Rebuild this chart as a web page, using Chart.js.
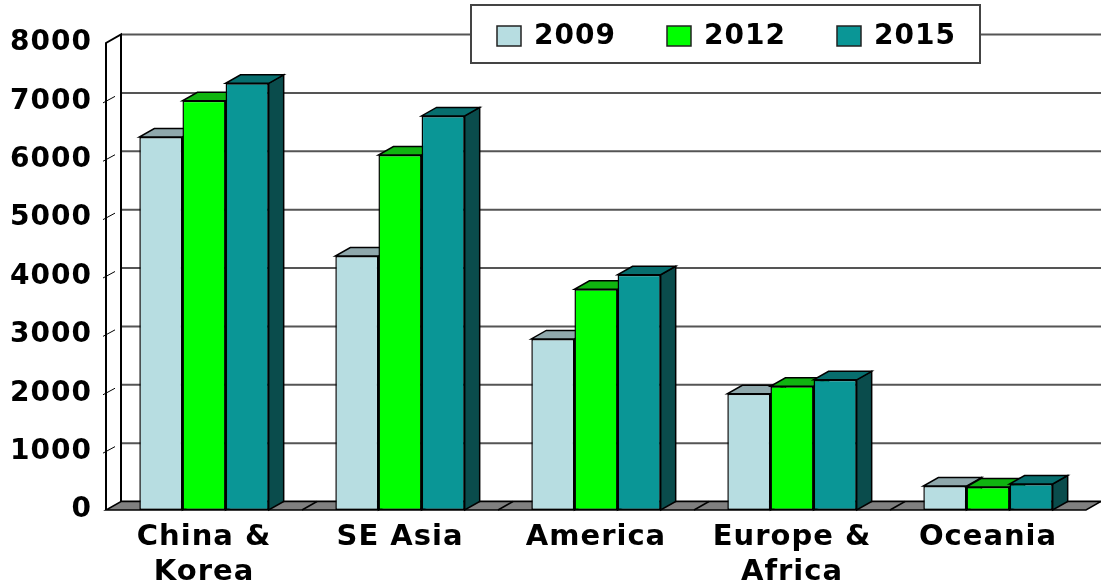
<!DOCTYPE html>
<html>
<head>
<meta charset="utf-8">
<script src="https://cdn.jsdelivr.net/npm/chart.js@4.4.1/dist/chart.umd.min.js"></script>
<style>
  html, body { margin: 0; padding: 0; background: #fff; }
  canvas { display: block; }
</style>
</head>
<body>
<canvas id="chart" width="1101" height="586"></canvas>
<script>
// categories and series
const regions = [["China &", "Korea"], "SE Asia", "America", ["Europe &", "Africa"], "Oceania"];
const years = ["2009", "2012", "2015"];
const v2009 = [6390, 4350, 2930, 1990, 410];
const v2012 = [7010, 6080, 3780, 2120, 395];
const v2015 = [7310, 6750, 4030, 2230, 445];

// front / top / side faces of each series
const faces = [
	{front: "#b7dde1", top: "#8fa8ac", side: "#5d7d81"},
	{front: "#00ff00", top: "#10b410", side: "#007a00"},
	{front: "#0a9696", top: "#076e6e", side: "#0a4c4c"}
];

const DEPTH_X = 15;
const DEPTH_Y = 8.5;
const FONT = "'DejaVu Sans', sans-serif";

function quad(ctx, pts, fill) {
	ctx.beginPath();
	ctx.moveTo(pts[0][0], pts[0][1]);
	for (let i = 1; i < pts.length; i++) ctx.lineTo(pts[i][0], pts[i][1]);
	ctx.closePath();
	ctx.fillStyle = fill;
	ctx.fill();
	ctx.stroke();
}

const spacing = {
	id: "spacing",
	beforeDraw(chart) {
		chart.ctx.letterSpacing = "1px";
	}
};

// back wall, side wall, floor and the depth of each bar
const box3d = {
	id: "box3d",
	beforeDatasetsDraw(chart) {
		const {ctx, chartArea: a, scales: {x, y}} = chart;
		const W = chart.width;
		ctx.save();

		// back wall grid
		ctx.strokeStyle = "#555";
		ctx.lineWidth = 2;
		for (let v = 0; v <= 8000; v += 1000) {
			const py = y.getPixelForValue(v) - DEPTH_Y;
			ctx.beginPath();
			ctx.moveTo(a.left + DEPTH_X, py);
			ctx.lineTo(W, py);
			ctx.stroke();
		}

		// floor
		ctx.strokeStyle = "#000";
		ctx.lineWidth = 1.5;
		quad(ctx, [
			[a.left, a.bottom], [a.right, a.bottom],
			[a.right + DEPTH_X, a.bottom - DEPTH_Y], [a.left + DEPTH_X, a.bottom - DEPTH_Y]
		], "#808080");
		const step = (a.right - a.left) / regions.length;
		for (let i = 1; i < regions.length; i++) {
			const px = a.left + i * step;
			ctx.beginPath();
			ctx.moveTo(px, a.bottom);
			ctx.lineTo(px + DEPTH_X, a.bottom - DEPTH_Y);
			ctx.stroke();
		}

		// left wall
		ctx.lineWidth = 2;
		ctx.beginPath();
		ctx.moveTo(a.left + DEPTH_X, a.bottom - DEPTH_Y);
		ctx.lineTo(a.left + DEPTH_X, a.top - DEPTH_Y);
		ctx.lineTo(a.left, a.top);
		ctx.lineTo(a.left, a.bottom);
		ctx.stroke();
		ctx.lineWidth = 1;
		for (let v = 1000; v <= 7000; v += 1000) {
			const py = y.getPixelForValue(v);
			ctx.beginPath();
			ctx.moveTo(a.left - 3, py + 1.5);
			ctx.lineTo(a.left + 9, py - 5);
			ctx.stroke();
		}

		// bar tops and sides, left to right
		ctx.lineWidth = 1.5;
		for (let j = 0; j < regions.length; j++) {
			chart.data.datasets.forEach((ds, i) => {
				const bar = chart.getDatasetMeta(i).data[j];
				const {x: bx, y: by, base, width} = bar.getProps(["x", "y", "base", "width"], true);
				const l = bx - width / 2, r = bx + width / 2;
				quad(ctx, [[r, by], [r + DEPTH_X, by - DEPTH_Y], [r + DEPTH_X, base - DEPTH_Y], [r, base]], faces[i].side);
				quad(ctx, [[l, by], [r, by], [r + DEPTH_X, by - DEPTH_Y], [l + DEPTH_X, by - DEPTH_Y]], faces[i].top);
			});
		}
		ctx.restore();
	}
};

// boxed legend over the top of the wall
const boxLegend = {
	id: "boxLegend",
	afterDraw(chart) {
		const ctx = chart.ctx;
		ctx.save();
		ctx.fillStyle = "#fff";
		ctx.strokeStyle = "#444";
		ctx.lineWidth = 2;
		ctx.fillRect(471, 5, 509, 58);
		ctx.strokeRect(471, 5, 509, 58);
		ctx.font = "bold 28px " + FONT;
		ctx.textBaseline = "middle";
		chart.data.datasets.forEach((ds, i) => {
			const mx = 497 + i * 170;
			ctx.fillStyle = ds.backgroundColor;
			ctx.strokeStyle = "#222";
			ctx.lineWidth = 1.5;
			ctx.fillRect(mx, 26, 24, 20);
			ctx.strokeRect(mx, 26, 24, 20);
			ctx.fillStyle = "#000";
			ctx.fillText(ds.label, mx + 37, 37);
		});
		ctx.restore();
	}
};

const series = [v2009, v2012, v2015];

new Chart(document.getElementById("chart"), {
	type: "bar",
	data: {
		labels: regions,
		datasets: years.map((yr, i) => ({
			label: yr,
			data: series[i],
			backgroundColor: faces[i].front,
			borderColor: "#000",
			borderWidth: 1.5,
			borderSkipped: false,
			categoryPercentage: 0.66,
			barPercentage: 1
		}))
	},
	options: {
		responsive: false,
		devicePixelRatio: 1,
		animation: false,
		layout: {padding: {top: 43, right: 15, left: 0, bottom: 0}},
		plugins: {
			legend: {display: false},
			tooltip: {enabled: false}
		},
		scales: {
			x: {
				grid: {display: false},
				border: {display: false},
				ticks: {
					color: "#000",
					font: {family: FONT, size: 29, weight: "bold", lineHeight: 1.2},
					padding: 2,
					maxRotation: 0,
					autoSkip: false
				},
				afterFit(scale) { scale.height = 76; }
			},
			y: {
				min: 0,
				max: 8000,
				grid: {display: false},
				border: {display: false},
				ticks: {
					stepSize: 1000,
					color: "#000",
					font: {family: FONT, size: 28, weight: "bold"},
					padding: 6,
					callback: (v) => String(v)
				},
				afterFit(scale) { scale.width = 106; }
			}
		}
	},
	plugins: [spacing, box3d, boxLegend]
});
</script>
</body>
</html>
